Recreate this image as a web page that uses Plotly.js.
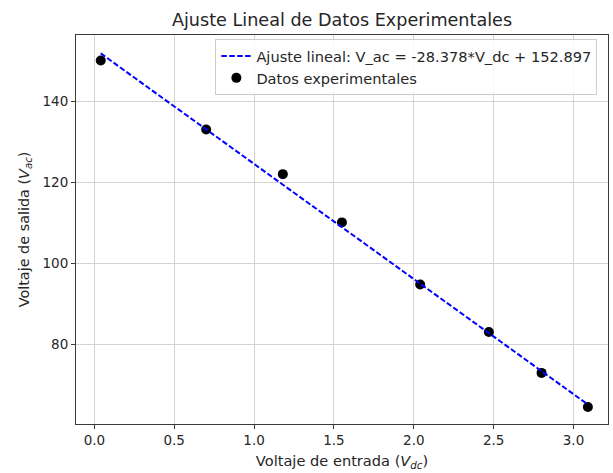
<!DOCTYPE html>
<html>
<head>
<meta charset="utf-8">
<script src="https://cdn.plot.ly/plotly-3.0.1.min.js"></script>
<style>html,body{margin:0;padding:0;background:#fff;}#chart{width:613px;height:473px;}</style>
</head>
<body>
<div id="chart"></div>
<script>
var vdc = [0.04, 0.70, 1.18, 1.55, 2.04, 2.47, 2.80, 3.09];
var vac = [150.0, 133.0, 122.0, 110.1, 94.8, 83.1, 73.0, 64.6];
// Fitted line endpoints: V_ac = -28.378*V_dc + 152.897
var fitX = [0.04, 3.09];
var fitY = [151.76, 65.21];
var xTicks = [0, 0.5, 1.0, 1.5, 2.0, 2.5, 3.0];
var xTickLabels = ["0.0", "0.5", "1.0", "1.5", "2.0", "2.5", "3.0"];
var yTicks = [80, 100, 120, 140];
var fitName = "Ajuste lineal: V_ac = -28.378*V_dc + 152.897";
var dataName = "Datos experimentales";

var font = "DejaVu Sans, sans-serif";
var txt = "#262626";

var traces = [
  {
    x: vdc, y: vac, type: "scatter", mode: "markers", name: dataName,
    legendrank: 2,
    marker: {color: "#000000", size: 10}
  },
  {
    x: fitX, y: fitY, type: "scatter", mode: "lines", name: fitName,
    legendrank: 1,
    line: {color: "#0000ff", width: 2, dash: "5.5px,2.4px"}
  }
];

var axisCommon = {
  showline: true, mirror: true, linecolor: "#3a3a3a", linewidth: 1,
  ticks: "outside", ticklen: 4, tickwidth: 1, tickcolor: "#3a3a3a",
  showgrid: true, gridcolor: "#d3d3d3", gridwidth: 1, zeroline: false,
  tickfont: {family: font, size: 13.5, color: txt}
};

var layout = {
  width: 613, height: 473,
  margin: {l: 76, r: 5, t: 35, b: 49},
  paper_bgcolor: "#ffffff", plot_bgcolor: "#ffffff",
  showlegend: true,
  title: {
    text: "Ajuste Lineal de Datos Experimentales",
    font: {family: font, size: 17.6, color: txt},
    x: 0.5, xanchor: "center", xref: "paper",
    y: 1 - 20/473, yanchor: "middle", yref: "container"
  },
  xaxis: Object.assign({}, axisCommon, {
    range: [-0.115, 3.216],
    tickmode: "array", tickvals: xTicks, ticktext: xTickLabels,
    title: {text: "Voltaje de entrada (<i>V</i><sub><i>dc</i></sub>)", font: {family: font, size: 14.6, color: txt}, standoff: 8},
    automargin: false
  }),
  yaxis: Object.assign({}, axisCommon, {
    range: [60.4, 156.3],
    tickmode: "array", tickvals: yTicks,
    title: {text: "Voltaje de salida (<i>V</i><sub><i>ac</i></sub>)", font: {family: font, size: 14.4, color: txt}, standoff: 9},
    automargin: false
  }),
  legend: {
    x: 0.262, y: 0.99, xanchor: "left", yanchor: "top",
    bgcolor: "rgba(255,255,255,0.85)", bordercolor: "#cccccc", borderwidth: 1,
    font: {family: font, size: 14.6, color: txt},
    traceorder: "normal"
  }
};

Plotly.newPlot("chart", traces, layout, {displayModeBar: false, staticPlot: true});
</script>
</body>
</html>
